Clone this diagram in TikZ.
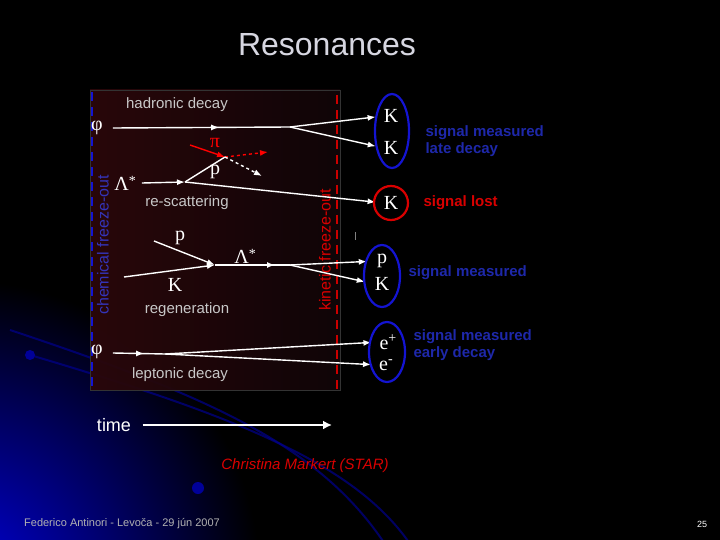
\documentclass[tikz,border=0pt]{standalone}
\usepackage{fontspec}
\setmainfont{Liberation Sans}
\newfontfamily\serifp{Liberation Serif}
\usetikzlibrary{arrows.meta,decorations.markings}
\definecolor{sigblue}{RGB}{30,40,170}
\definecolor{ellblue}{RGB}{20,20,210}
\definecolor{panel}{RGB}{40,14,20}
\definecolor{ttl}{RGB}{215,215,225}
\definecolor{grtxt}{RGB}{200,200,200}
\tikzset{
 x=1pt,y=-1pt,
 wl/.style={white,line width=1.4pt},
 mid/.style={postaction={decorate},decoration={markings,mark=at position #1 with {\arrow{Latex[length=8pt,width=6pt]}}}},
 tip/.style={-{Latex[length=8pt,width=6pt]}},
 lab/.style={grtxt,font=\fontsize{15}{15}\selectfont},
 part/.style={white,font=\serifp\fontsize{20}{20}\selectfont,inner sep=0pt},
 sig/.style={sigblue,font=\bfseries\fontsize{15}{17}\selectfont,align=left,anchor=west},
 ell/.style={ellblue,line width=2.2pt},
}
\begin{document}
\begin{tikzpicture}
\useasboundingbox (0,0) rectangle (720,540);
\fill[black] (0,0) rectangle (720,540);
\begin{scope}
\clip (0,0) rectangle (720,540);
\shade[inner color=blue!85!black, outer color=black] (-40,580) circle (300);
\draw[blue!55!black,line width=2pt,opacity=.7] (30,355) .. controls (250,420) and (370,470) .. (420,560);
\draw[blue!55!black,line width=2pt,opacity=.7] (10,330) .. controls (220,400) and (330,450) .. (395,560);
\fill[blue!60!black] (30,355) circle (5);
\fill[blue!60!black] (198,488) circle (6);
\end{scope}
% panel
\shade[left color=panel!85!red!60!black, right color=panel!40!black, opacity=.95] (90,90) rectangle (340,390);
\draw[gray!40!black] (90,90) rectangle (340,390);
\draw[ellblue,line width=2.5pt,dash pattern=on 9pt off 6pt] (92,92) -- (92,390);
\draw[red!80!black,line width=2.5pt,dash pattern=on 9pt off 6pt] (337,95) -- (337,390);
\node[ellblue!70!gray,rotate=90,font=\fontsize{16}{16}\selectfont] (chem) at (103,245) {chemical freeze-out};
\node[red!85!black,rotate=90,font=\fontsize{16}{16}\selectfont] (kin) at (325,250) {kinetic freeze-out};
\node[ttl,font=\fontsize{32}{32}\selectfont] (title) at (327,45) {Resonances};
% texts
\node[lab] (hd) at (177,105) {hadronic decay};
\node[lab] (rs) at (187,203) {re-scattering};
\node[lab] (rg) at (187,310) {regeneration};
\node[lab] (ld) at (180,375) {leptonic decay};
% phi hadronic
\node[part] (phi1) at (97,128) {φ};
\coordinate (s1) at (290,127);
\node[part] (K1) at (391,116) {K};
\node[part] (K2) at (391,148) {K};
\draw[wl,mid=.6] (phi1.east)++(10,0) coordinate (p1) -- (s1);
\draw[wl,tip,shorten >=8pt] (s1) -- (K1.west);
\draw[wl,tip,shorten >=8pt] (s1) -- (K2.west);
\draw[ell] (392,131) ellipse (17 and 37);
% rescattering
\node[part] (L1) at (125,183) {Λ\raisebox{5pt}{\fontsize{14}{14}\selectfont *}};
\coordinate (d1) at (185,182);
\coordinate (c1) at (225,157);
\coordinate (r0) at (190,145);
\coordinate (r1) at (268,152);
\coordinate (w1) at (262,176);
\node[part,red] (pi) at (215,143) {π};
\node[part] (rho) at (215,172) {p};
\node[part] (K3) at (391,203) {K};
\draw[wl,tip] (L1.east)++(6,0) -- (d1);
\draw[wl] (d1) -- (c1);
\draw[wl,tip,shorten >=8pt] (d1) -- (K3.west);
\draw[red,line width=1.4pt,tip] (r0) -- (c1);
\draw[red,line width=1.4pt,dashed,tip] (c1) -- (r1);
\draw[wl,dashed,tip] (c1) -- (w1);
\draw[red!85!black,line width=2.2pt] (K3) circle (17);
% regeneration
\node[part] (pp) at (180,238) {p};
\node[part] (KK) at (175,285) {K};
\node[part] (L2) at (245,256) {Λ\raisebox{5pt}{\fontsize{14}{14}\selectfont *}};
\coordinate (a) at (154,241);
\coordinate (b) at (124,277);
\coordinate (m) at (215,265);
\coordinate (s2) at (290,265);
\node[part] (p2) at (382,261) {p};
\node[part] (K4) at (382,284) {K};
\draw[wl,tip] (a) -- (m);
\draw[wl,tip] (b) -- (m);
\draw[wl,mid=.8] (m) -- (s2);
\draw[wl,tip,shorten >=10pt] (s2) -- (p2.west);
\draw[wl,tip,shorten >=10pt] (s2) -- (K4.west);
\draw[ell] (382,276) ellipse (18 and 31);
% leptonic
\node[part] (phi2) at (97,352) {φ};
\coordinate (s3) at (165,354);
\node[part] (ep) at (388,342) {e\raisebox{7pt}{\fontsize{14}{14}\selectfont +}};
\node[part] (em) at (386,365) {e\raisebox{7pt}{\fontsize{14}{14}\selectfont -}};
\draw[wl,mid=.6] (phi2.east)++(10,1) -- (s3);
\draw[wl,tip,shorten >=8pt] (s3) -- (ep.west);
\draw[wl,tip,shorten >=8pt] (s3) -- (em.west);
\draw[ell] (387,352) ellipse (18 and 30);
\draw[gray,line width=.8pt] (355,232) -- (355,240);
% signals
\node[sig] (sg1) at (422,141) {signal measured\\late decay};
\node[sig,red!85!black] (sg2) at (420,203) {signal lost};
\node[sig] (sg3) at (405,273) {signal measured};
\node[sig] (sg4) at (410,345) {signal measured\\early decay};
% time
\node[white,font=\fontsize{18}{18}\selectfont] (time) at (114,425) {time};
\coordinate (tend) at (332,425);
\draw[white,line width=2.5pt,-{Latex[length=9pt,width=9pt]}] (time.east)++(8,0) -- (tend);
\node[red!85!black,font=\itshape\fontsize{15}{15}\selectfont] (cm) at (305,466) {Christina Markert (STAR)};
\node[gray!60!white,font=\fontsize{11}{11}\selectfont] (ft) at (122,524) {Federico Antinori - Levoča - 29 jún 2007};
\node[white,font=\fontsize{9}{9}\selectfont] (pg) at (702,524) {25};
\end{tikzpicture}
\end{document}
